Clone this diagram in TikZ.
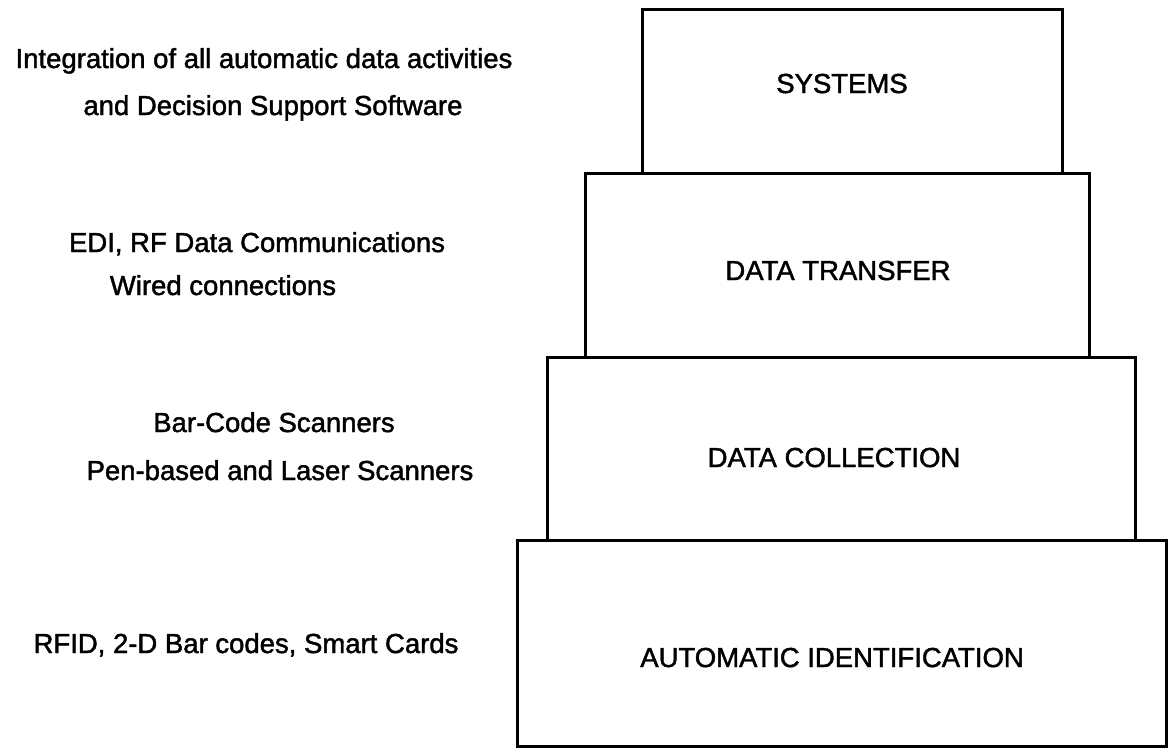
\documentclass[tikz,border=0pt]{standalone}
\usepackage{fontspec}
\setmainfont{Liberation Sans}
\newfontfamily\heavysans{Liberation Sans}[UprightFeatures={FakeBold=1.6}]
\tikzset{
  layer/.style={draw=black, line width=3pt, inner sep=0pt, outer sep=0pt, fill=none},
  layertext/.style={anchor=base, inner sep=0pt, font=\heavysans\fontsize{27.5}{32}\selectfont},
  sidetext/.style={anchor=base, inner sep=0pt, font=\heavysans\fontsize{27.5}{32}\selectfont},
}
\begin{document}
\begin{tikzpicture}[x=1pt, y=-1pt]
  \useasboundingbox (0,0) rectangle (1169,748);

  % stacked layers, widest at the bottom
  \node[layer, minimum width=420pt, minimum height=164pt] (systems)  at (852,91)    {};
  \node[layer, minimum width=504pt, minimum height=184pt] (transfer) at (837,265)   {};
  \node[layer, minimum width=588pt, minimum height=183pt] (collect)  at (841,448.5) {};
  \node[layer, minimum width=649pt, minimum height=206pt] (autoid)   at (841.5,643) {};

  % layer titles
  \node[layertext] (systemsT)  at (842,93)  {SYSTEMS};
  \node[layertext] (transferT) at (838,280) {DATA TRANSFER};
  \node[layertext] (collectT)  at (834,467) {DATA COLLECTION};
  \node[layertext] (autoidT)   at (832,667) {AUTOMATIC IDENTIFICATION};

  % descriptions on the left
  \node[sidetext] (s1) at (264,68)  {Integration of all automatic data activities};
  \node[sidetext] (s2) at (273,115) {and Decision Support Software};
  \node[sidetext] (t1) at (257,252) {EDI, RF Data Communications};
  \node[sidetext] (t2) at (223,295) {Wired connections};
  \node[sidetext] (c1) at (274,432) {Bar-Code Scanners};
  \node[sidetext] (c2) at (280,480) {Pen-based and Laser Scanners};
  \node[sidetext] (a1) at (246,653) {RFID, 2-D Bar codes, Smart Cards};
\end{tikzpicture}
\end{document}
